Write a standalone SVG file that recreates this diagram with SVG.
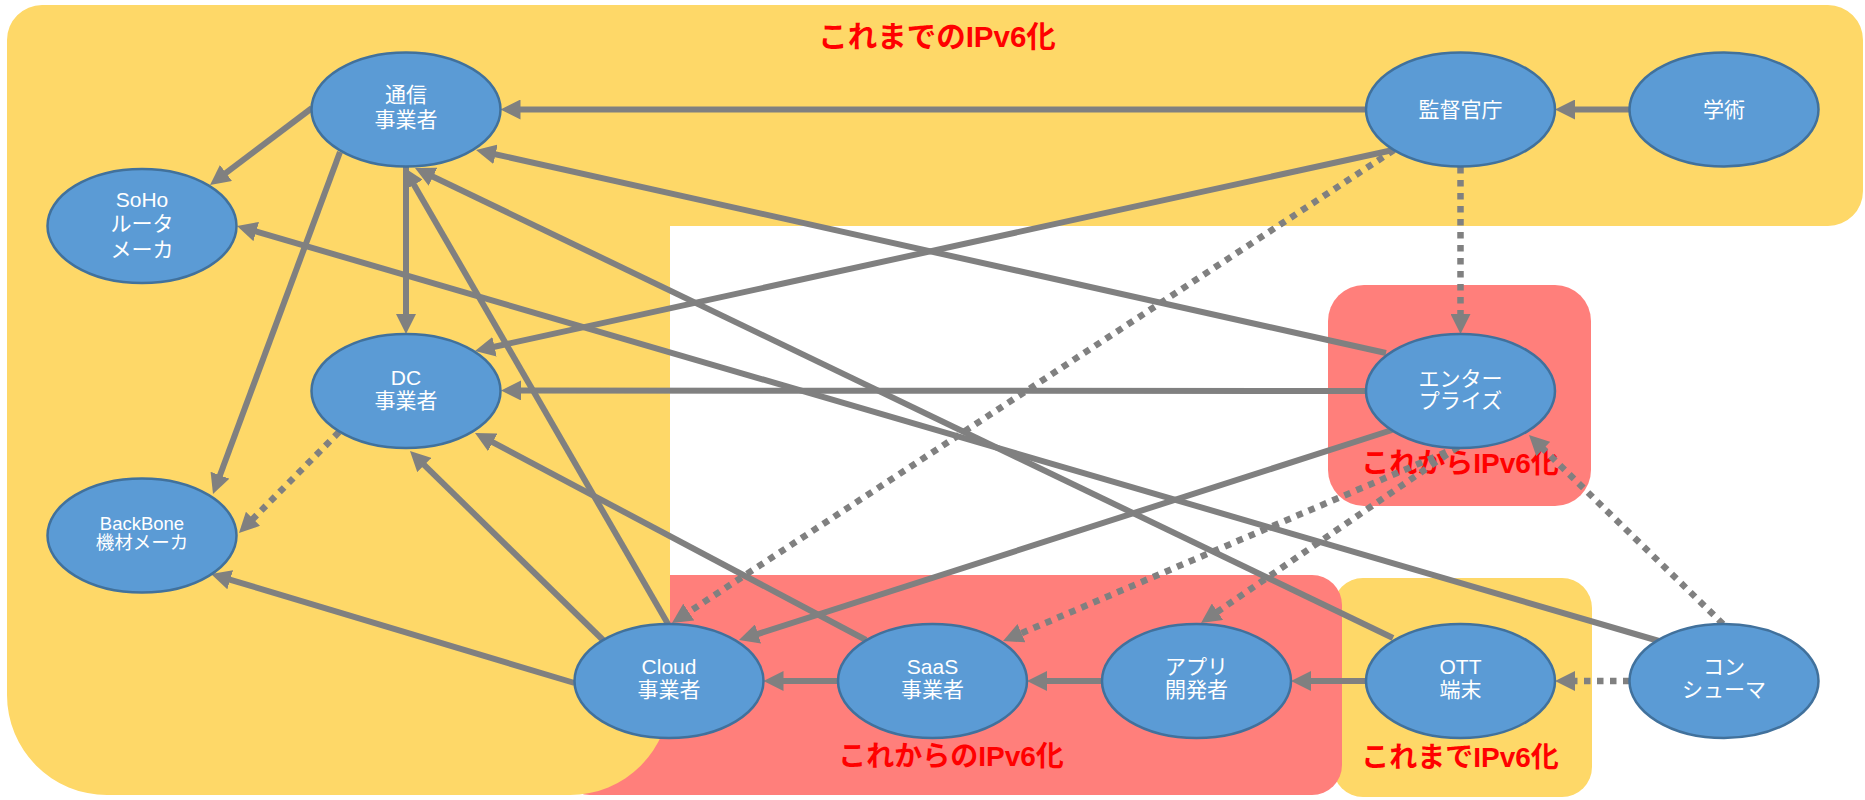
<svg xmlns="http://www.w3.org/2000/svg" width="1865" height="800" viewBox="0 0 1865 800">
<style>
.yel{fill:#FED868}
.red{fill:#FF7F7B}
.lbl{fill:#FF0000;font-family:'Liberation Sans','Noto Sans CJK JP',sans-serif;font-weight:bold;text-anchor:middle}
.nd{fill:#5B9BD5;stroke:#41719C;stroke-width:2.5}
.nt{fill:#FFFFFF;font-family:'Liberation Sans','Noto Sans CJK JP',sans-serif;font-size:21px;text-anchor:middle}
.ln{stroke:#808080;stroke-width:6;fill:none;marker-end:url(#ah)}
.dt{stroke:#808080;stroke-width:6.5;fill:none;stroke-dasharray:6.5 6.5;marker-end:url(#ah)}
</style>
<defs>
<marker id="ah" markerUnits="userSpaceOnUse" viewBox="0 0 20 20" markerWidth="20" markerHeight="20" refX="12" refY="10" orient="auto">
<path d="M0,0 L20,10 L0,20 Z" fill="#808080"/>
</marker>
</defs>
<g id="regions">
<rect class="yel" x="1333" y="578" width="259" height="219" rx="30"/>
<rect class="red" x="560" y="575" width="782" height="220" rx="30"/>
<path class="yel" d="M42,5 H1828 A35,35 0 0 1 1863,40 V191 A35,35 0 0 1 1828,226 H670 V695 A100,100 0 0 1 570,795 H107 A100,100 0 0 1 7,695 V40 A35,35 0 0 1 42,5 Z"/>
<rect class="red" x="1328" y="285" width="263" height="221" rx="36"/>
</g>
<g id="labels">
<text class="lbl" x="937" y="47" font-size="29.5">これまでのIPv6化</text>
<text class="lbl" x="951" y="766" font-size="28">これからのIPv6化</text>
<text class="lbl" x="1460" y="473" font-size="28">これからIPv6化</text>
<text class="lbl" x="1460" y="767" font-size="28">これまでIPv6化</text>
</g>
<g id="connectors">
<line class="ln" x1="1366" y1="109.5" x2="508.5" y2="109.5"/>
<line class="ln" x1="1629.5" y1="109.5" x2="1563" y2="109.5"/>
<line class="ln" x1="312" y1="108" x2="216.4" y2="180.2"/>
<line class="ln" x1="340" y1="152" x2="215.8" y2="486.5"/>
<line class="ln" x1="406" y1="166.5" x2="406" y2="326"/>
<line class="ln" x1="668" y1="624" x2="408" y2="174.4"/>
<line class="ln" x1="1386" y1="353" x2="483.8" y2="151.7"/>
<line class="ln" x1="1659" y1="641" x2="244.7" y2="228.2"/>
<line class="ln" x1="1393" y1="150" x2="482.8" y2="349.3"/>
<line class="ln" x1="1366" y1="391" x2="509" y2="390.5"/>
<line class="ln" x1="866" y1="640" x2="482.1" y2="436.7"/>
<line class="ln" x1="603" y1="640" x2="415.7" y2="456.6"/>
<line class="ln" x1="574.5" y1="683" x2="218.7" y2="576.3"/>
<line class="ln" x1="1392" y1="430" x2="746.6" y2="637.6"/>
<line class="ln" x1="838" y1="681" x2="771.5" y2="681"/>
<line class="ln" x1="1102" y1="681" x2="1035" y2="681"/>
<line class="ln" x1="1366" y1="681" x2="1299" y2="681"/>
<line class="ln" x1="1393" y1="638" x2="422.2" y2="171.5"/>
<line class="dt" x1="1460.5" y1="167" x2="1460.5" y2="326"/>
<line class="dt" x1="1394" y1="150" x2="678.7" y2="618.6"/>
<line class="dt" x1="339" y1="432" x2="244.6" y2="527.3"/>
<line class="dt" x1="1458" y1="447" x2="1010.4" y2="637.9"/>
<line class="dt" x1="1458" y1="447" x2="1207.6" y2="618.5"/>
<line class="dt" x1="1723" y1="624" x2="1534.7" y2="440.6"/>
<line class="dt" x1="1629.5" y1="681" x2="1563" y2="681"/>
</g>
<g id="n-tsushin"><ellipse class="nd" cx="406" cy="109.5" rx="94.5" ry="57"/><text class="nt" x="406" y="102">通信</text><text class="nt" x="406" y="126.5">事業者</text></g>
<g id="n-soho"><ellipse class="nd" cx="142" cy="226" rx="94.5" ry="57"/><text class="nt" x="142" y="207">SoHo</text><text class="nt" x="142" y="231">ルータ</text><text class="nt" x="142" y="257">メーカ</text></g>
<g id="n-dc"><ellipse class="nd" cx="406" cy="391" rx="94.5" ry="57"/><text class="nt" x="406" y="385">DC</text><text class="nt" x="406" y="408">事業者</text></g>
<g id="n-backbone"><ellipse class="nd" cx="142" cy="535.5" rx="94.5" ry="57"/><text class="nt" x="142" y="530" style="font-size:18.5px">BackBone</text><text class="nt" x="142" y="549" style="font-size:18.5px">機材メーカ</text></g>
<g id="n-cloud"><ellipse class="nd" cx="669" cy="681" rx="94.5" ry="57"/><text class="nt" x="669" y="674">Cloud</text><text class="nt" x="669" y="697">事業者</text></g>
<g id="n-saas"><ellipse class="nd" cx="932.5" cy="681" rx="94.5" ry="57"/><text class="nt" x="932.5" y="674">SaaS</text><text class="nt" x="932.5" y="697">事業者</text></g>
<g id="n-app"><ellipse class="nd" cx="1196.5" cy="681" rx="94.5" ry="57"/><text class="nt" x="1196.5" y="674">アプリ</text><text class="nt" x="1196.5" y="697">開発者</text></g>
<g id="n-ott"><ellipse class="nd" cx="1460.5" cy="681" rx="94.5" ry="57"/><text class="nt" x="1460.5" y="674">OTT</text><text class="nt" x="1460.5" y="697">端末</text></g>
<g id="n-consumer"><ellipse class="nd" cx="1724" cy="681" rx="94.5" ry="57"/><text class="nt" x="1724" y="674">コン</text><text class="nt" x="1724" y="697">シューマ</text></g>
<g id="n-enterprise"><ellipse class="nd" cx="1460.5" cy="391" rx="94.5" ry="57"/><text class="nt" x="1460.5" y="386">エンター</text><text class="nt" x="1460.5" y="408">プライズ</text></g>
<g id="n-kantoku"><ellipse class="nd" cx="1460.5" cy="109.5" rx="94.5" ry="57"/><text class="nt" x="1460.5" y="117">監督官庁</text></g>
<g id="n-gakujutsu"><ellipse class="nd" cx="1724" cy="109.5" rx="94.5" ry="57"/><text class="nt" x="1724" y="117">学術</text></g>
</svg>
